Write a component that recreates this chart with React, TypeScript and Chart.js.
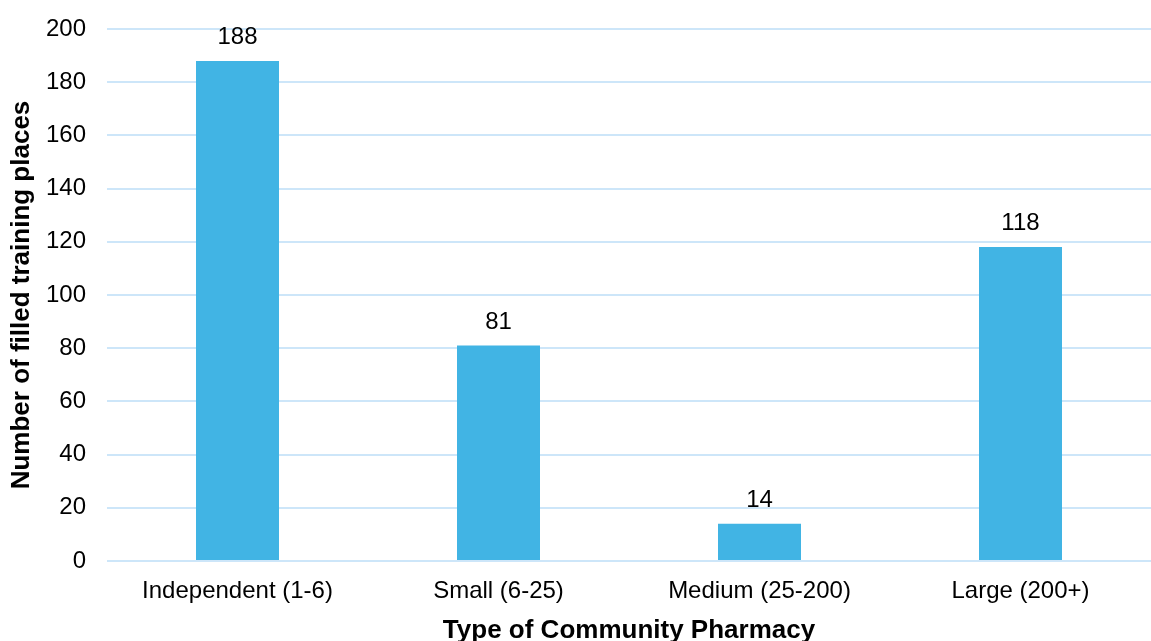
import React, { useEffect, useRef } from "react";
import { Chart, registerables } from "chart.js";

Chart.register(...registerables);

const categories = ["Independent (1-6)", "Small (6-25)", "Medium (25-200)", "Large (200+)"];
const values = [188, 81, 14, 118];
const yTicks = [0, 20, 40, 60, 80, 100, 120, 140, 160, 180, 200];

const FONT = "'Liberation Sans', Arial, sans-serif";

const labelPlugin = {
  id: "barLabels",
  afterDatasetsDraw(chart: any) {
    const ctx = chart.ctx;
    const meta = chart.getDatasetMeta(0);
    ctx.save();
    ctx.font = `24px ${FONT}`;
    ctx.fillStyle = "#000";
    ctx.textAlign = "center";
    ctx.textBaseline = "alphabetic";
    meta.data.forEach((bar: any, i: number) => {
      ctx.fillText(String(values[i]), bar.x, bar.y - 17);
    });
    ctx.restore();
  },
};

export default function App() {
  const ref = useRef<HTMLCanvasElement>(null);
  useEffect(() => {
    const chart = new Chart(ref.current!, {
      type: "bar",
      data: {
        labels: categories,
        datasets: [
          {
            data: values,
            backgroundColor: "#41B4E4",
            categoryPercentage: 1,
            barPercentage: 0.318,
          },
        ],
      },
      options: {
        animation: false,
        responsive: true,
        maintainAspectRatio: false,
        layout: { padding: { top: 0, right: 0, left: 4, bottom: 0 } },
        plugins: { legend: { display: false }, tooltip: { enabled: false } },
        scales: {
          x: {
            afterFit: (axis: any) => {
              axis.height = 80;
            },
            grid: { display: false },
            border: { display: false },
            ticks: { color: "#000", font: { family: FONT, size: 24 }, padding: 8, maxRotation: 0 },
            title: {
              display: true,
              text: "Type of Community Pharmacy",
              color: "#000",
              font: { family: FONT, size: 26, weight: "bold" },
              padding: { top: 0, bottom: -5 },
            },
          },
          y: {
            min: 0,
            max: 200,
            afterFit: (axis: any) => {
              axis.width = 103;
              axis.paddingTop = 29;
            },
            afterBuildTicks: (axis: any) => {
              axis.ticks = yTicks.map((v) => ({ value: v }));
            },
            grid: { color: "#CDE6F9", lineWidth: 2, drawTicks: false },
            border: { display: false },
            ticks: { color: "#000", font: { family: FONT, size: 24 }, padding: 21 },
            title: {
              display: true,
              text: "Number of filled training places",
              color: "#000",
              font: { family: FONT, size: 26, weight: "bold" },
              padding: { top: 2, bottom: 0 },
            },
          },
        },
      },
      plugins: [labelPlugin],
    });
    return () => chart.destroy();
  }, []);
  return (
    <div style={{ position: "fixed", left: 0, top: 0, width: 1151, height: 641, background: "#fff" }}>
      <canvas ref={ref} />
    </div>
  );
}
